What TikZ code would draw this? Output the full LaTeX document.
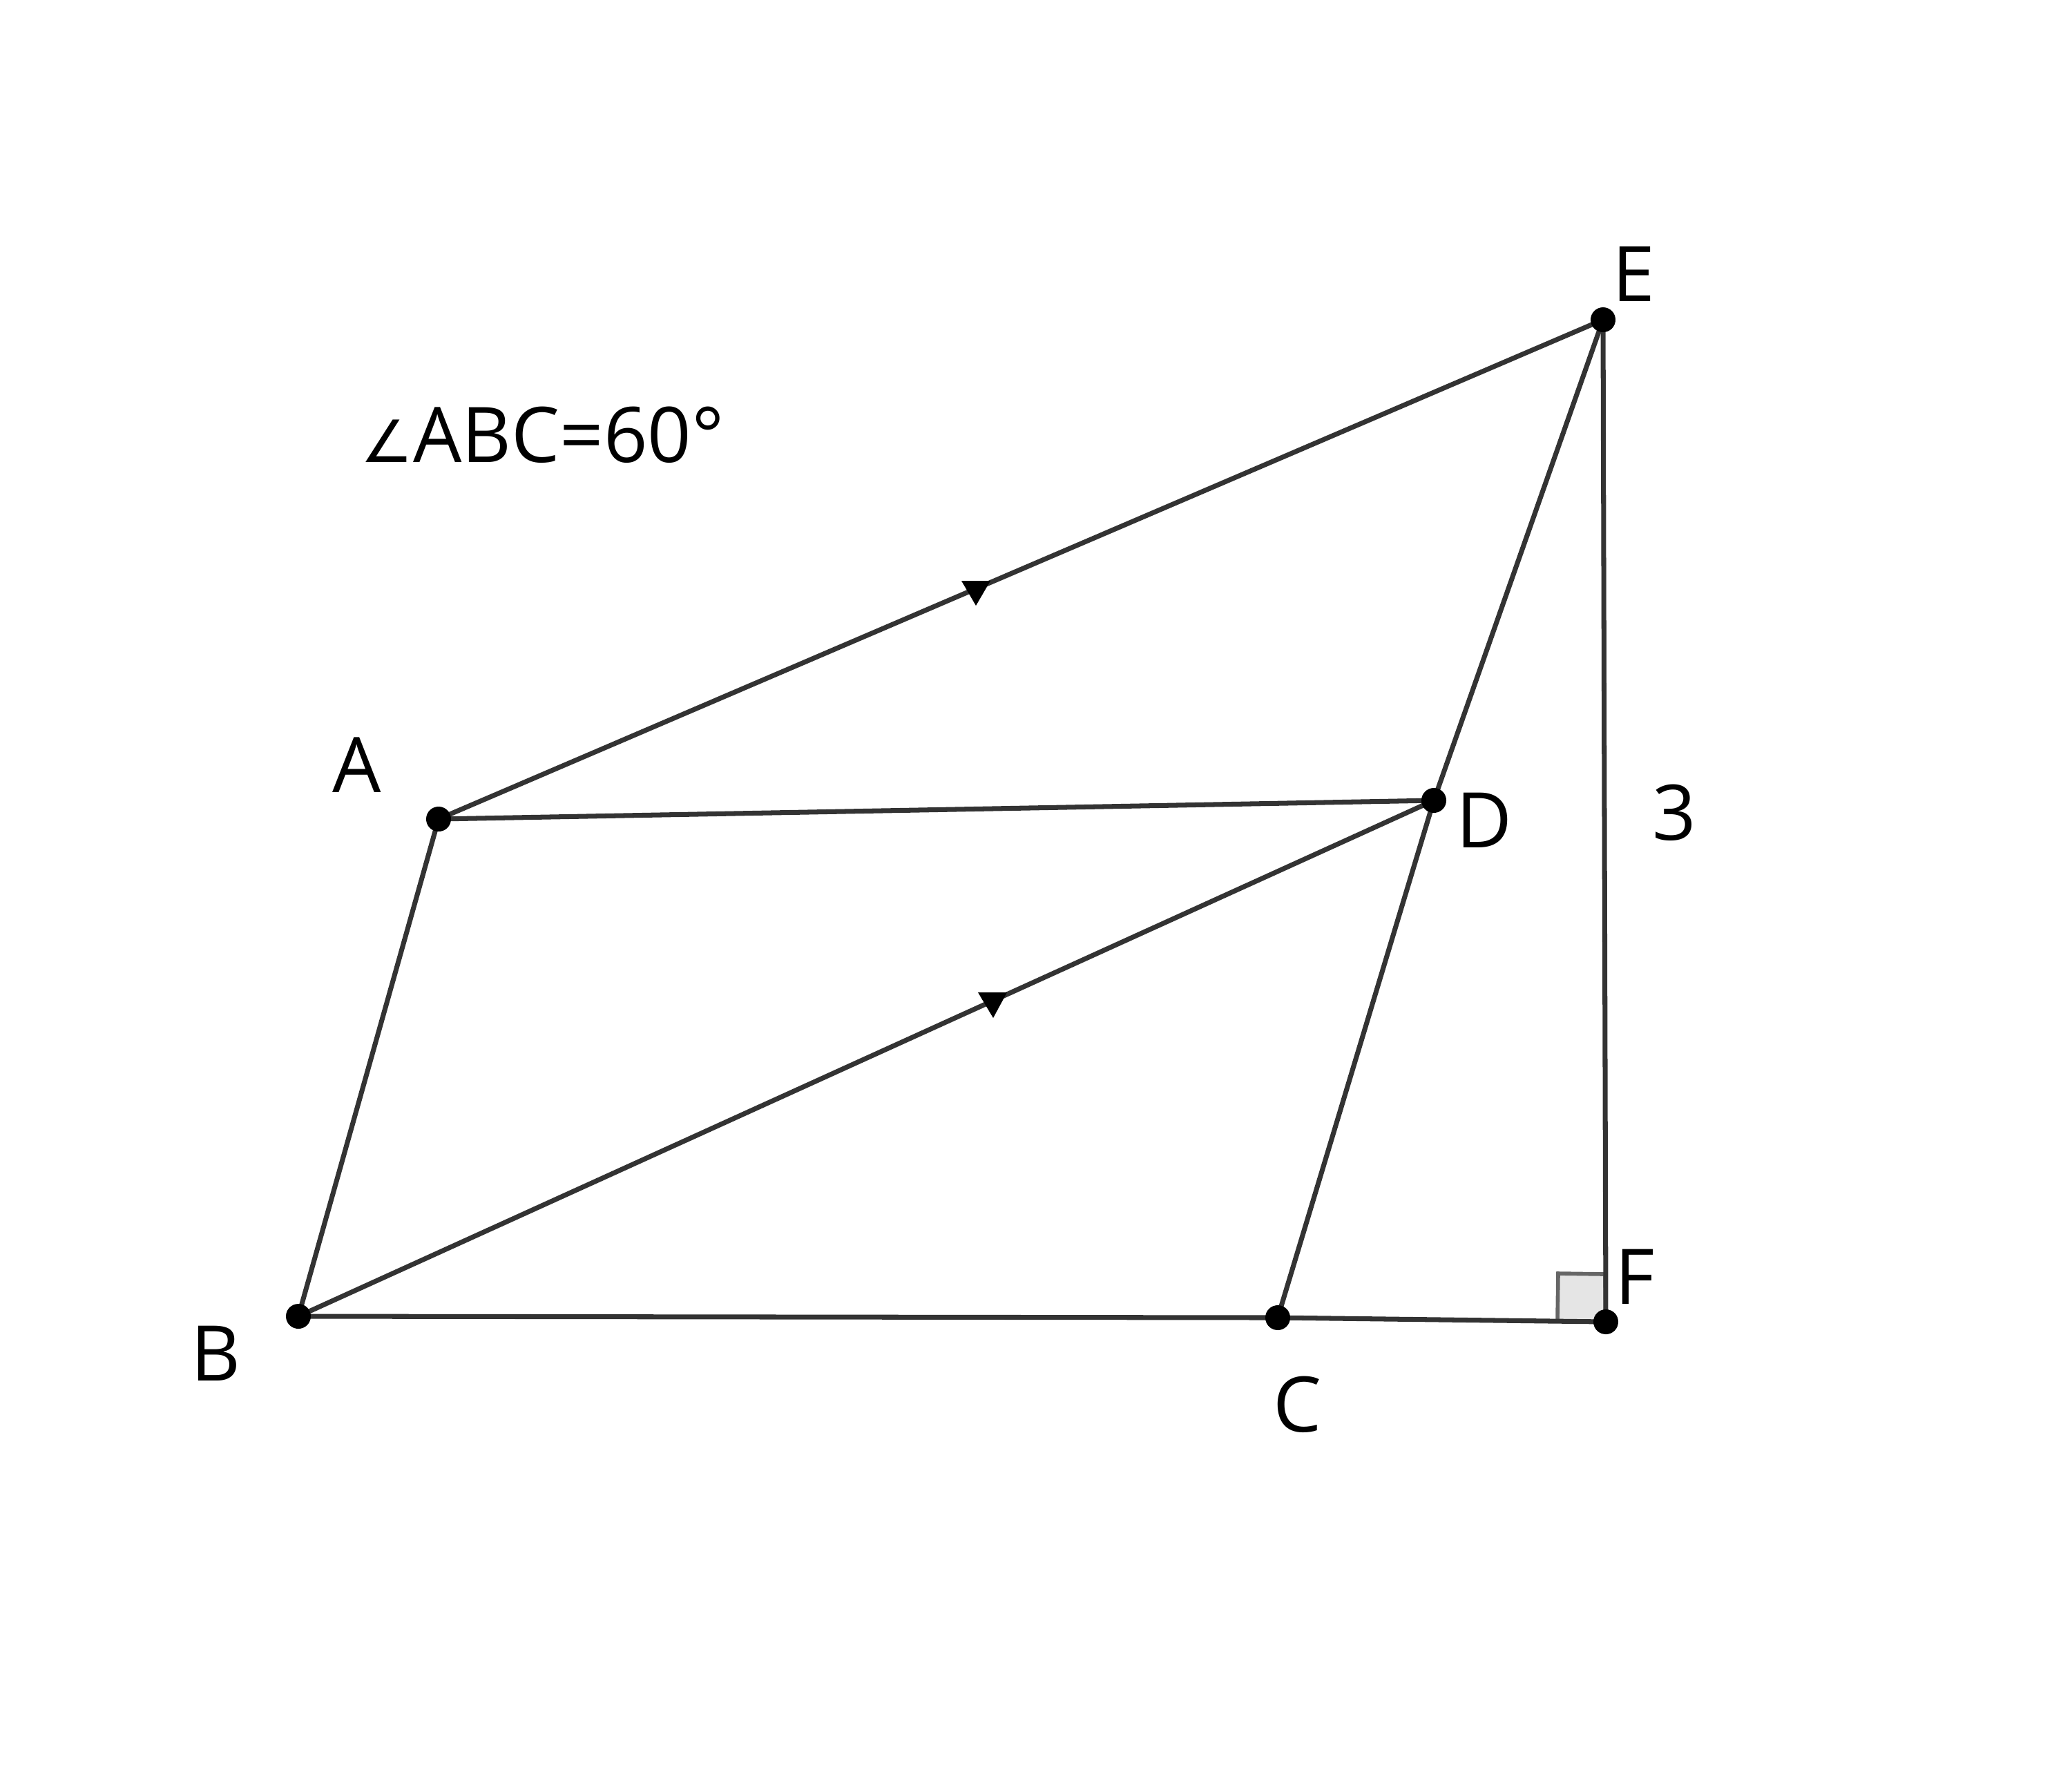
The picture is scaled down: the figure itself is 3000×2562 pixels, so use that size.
\documentclass[tikz,border=0pt]{standalone}
\usepackage{fontspec}
\setmainfont{Open Sans}
\newfontfamily\symfont{DejaVu Sans}
\begin{document}
\begin{tikzpicture}[x=0.01cm,y=-0.01cm,
  seg/.style={draw=black!80,line width=2.0pt},
  dot/.style={circle,fill=black,inner sep=0pt,minimum size=0.36cm},
  lbl/.style={font=\fontsize{31.6}{36}\selectfont,inner sep=0pt},
  tri/.style={fill=black}]
\useasboundingbox (0,0) rectangle (3000,2562);
\coordinate (A) at (635,1186);
\coordinate (B) at (432,1906);
\coordinate (C) at (1850,1908);
\coordinate (D) at (2076,1159);
\coordinate (E) at (2321,463);
\coordinate (F) at (2325,1914);
\coordinate (Q1) at (2255,1913);
\coordinate (Q2) at (2256,1844);
\coordinate (Q3) at (2324,1845);
\filldraw[fill=black!10,draw=black!60,line width=1.6pt] (F) -- (Q1) -- (Q2) -- (Q3) -- cycle;
\draw[seg] (A) -- (E);
\draw[seg] (A) -- (D);
\draw[seg] (A) -- (B);
\draw[seg] (B) -- (D);
\draw[seg] (B) -- (C);
\draw[seg] (C) -- (F);
\draw[seg] (C) -- (D);
\draw[seg] (D) -- (E);
\draw[seg] (E) -- (F);
\coordinate (T1a) at (1392,841);
\coordinate (T1b) at (1434,841);
\coordinate (T1c) at (1413,877);
\fill[tri] (T1a) -- (T1b) -- (T1c) -- cycle;
\coordinate (T2a) at (1416,1437);
\coordinate (T2b) at (1458,1437);
\coordinate (T2c) at (1438,1474);
\fill[tri] (T2a) -- (T2b) -- (T2c) -- cycle;
\node[dot] (pA) at (A) {};
\node[dot] (pB) at (B) {};
\node[dot] (pC) at (C) {};
\node[dot] (pD) at (D) {};
\node[dot] (pE) at (E) {};
\node[dot] (pF) at (F) {};
\node[lbl] (lA) at (517,1108) {A};
\node[lbl] (lB) at (312,1960) {B};
\node[lbl] (lC) at (1879,2034) {C};
\node[lbl] (lD) at (2149,1188) {D};
\node[lbl] (lE) at (2365,397) {E};
\node[lbl] (lF) at (2367,1849) {F};
\node[lbl] (l3) at (2424,1177) {3};
\node[lbl,anchor=west] (lang) at (522,630) {{\symfont\fontsize{24}{28}\selectfont ∠}ABC=60°};
\end{tikzpicture}
\end{document}
